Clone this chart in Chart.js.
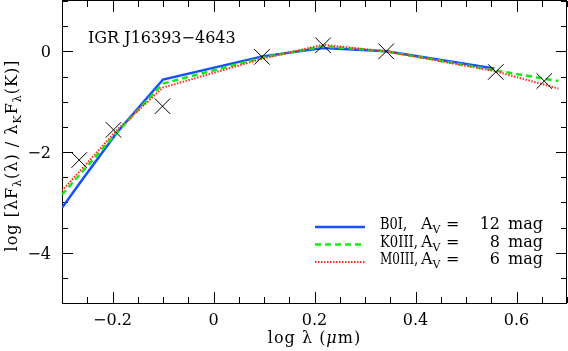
<!DOCTYPE html>
<html><head><meta charset="utf-8">
<script src="https://cdn.jsdelivr.net/npm/chart.js@4"></script>
<style>html,body{margin:0;padding:0;background:#fff}canvas{display:block}</style>
</head><body>
<canvas id="c" width="568" height="351"></canvas>
<script>
// ---- data ----
const modelX = [-0.30, -0.26, -0.19, -0.10, 0.097, 0.217, 0.342, 0.556, 0.683];
const b0iY   = [-3.11, -2.55, -1.60, -0.56, -0.10, 0.065, 0.00, -0.34, null];
const k0iiiY = [-2.85, null,  -1.60, -0.64, -0.125, 0.10, 0.00, -0.376, -0.59];
const m0iiiY = [-2.77, null,  -1.55, -0.72, -0.145, 0.13, 0.00, -0.39, -0.74];
const obsX = [-0.266, -0.198, -0.101, 0.096, 0.217, 0.342, 0.559, 0.655];
const obsY = [-2.16, -1.56, -1.09, -0.11, 0.12, 0.00, -0.41, -0.59];
const xTickValues = [-0.2, 0, 0.2, 0.4, 0.6];
const yTickValues = [-4, -2, 0];
const seriesNames = ['B0I,', 'K0III,', 'M0III,'];
const seriesAv = ['12', '8', '6'];
const plotTitle = 'IGR J16393\u22124643';

const FONT = '"DejaVu Serif"';
const BLUE = 'rgb(20,80,255)', GREEN = 'rgb(20,235,20)', RED = 'rgb(255,45,25)';

function pts(xs, ys) {
  const out = [];
  xs.forEach((x, i) => { if (ys[i] !== null && ys[i] !== undefined) out.push({x: x, y: ys[i]}); });
  return out;
}
function fmt(v) { return v === 0 ? '0' : String(v).replace('-', '\u2212'); }

function setF(ctx, s) { ctx.font = (s.it ? 'italic ' : '') + (s.sub ? '11px ' : '16px ') + FONT; }
function drawRich(ctx, segs, x, y) {
  let cx = x;
  segs.forEach(s => {
    setF(ctx, s);
    ctx.fillText(s.t, cx, y + (s.sub ? 4 : 0));
    cx += ctx.measureText(s.t).width;
  });
  return cx - x;
}
function richWidth(ctx, segs) {
  let w = 0;
  segs.forEach(s => { setF(ctx, s); w += ctx.measureText(s.t).width; });
  return w;
}

const decor = {
  id: 'decor',
  beforeDatasetsDraw(chart) {
    const ctx = chart.ctx, a = chart.chartArea;
    const xs = chart.scales.x, ys = chart.scales.y;
    ctx.save();
    ctx.strokeStyle = '#000';
    ctx.lineWidth = 1;
    ctx.beginPath();
    for (let i = 0; i <= 20; i++) {
      const v = -0.3 + i * 0.05;
      const major = Math.abs(Math.round(v / 0.2) * 0.2 - v) < 1e-6;
      const len = major ? 11 : 6;
      const px = Math.round(xs.getPixelForValue(v)) + 0.5;
      ctx.moveTo(px, a.bottom); ctx.lineTo(px, a.bottom - len);
      ctx.moveTo(px, a.top); ctx.lineTo(px, a.top + len);
    }
    for (let i = 0; i <= 12; i++) {
      const v = -5 + i * 0.5;
      const major = Math.abs(Math.round(v / 2) * 2 - v) < 1e-6;
      const len = major ? 11 : 6;
      const py = Math.round(ys.getPixelForValue(v)) + 0.5;
      ctx.moveTo(a.left, py); ctx.lineTo(a.left + len, py);
      ctx.moveTo(a.right, py); ctx.lineTo(a.right - len, py);
    }
    ctx.stroke();
    ctx.strokeRect(Math.round(a.left) + 0.5, Math.round(a.top) - 0.5,
                   Math.round(a.right - a.left) - 1, Math.round(a.bottom - a.top) + 1);
    ctx.restore();
  },
  afterDraw(chart) {
    const ctx = chart.ctx, a = chart.chartArea;
    const xs = chart.scales.x, ys = chart.scales.y;
    ctx.save();
    ctx.fillStyle = '#000';
    ctx.textBaseline = 'alphabetic';
    // tick labels (positions from the chart's scales)
    ctx.font = '16px ' + FONT;
    ctx.textAlign = 'center';
    xs.ticks.forEach(t => ctx.fillText(fmt(t.value), xs.getPixelForValue(t.value), a.bottom + 22));
    ctx.textAlign = 'right';
    ys.ticks.forEach(t => ctx.fillText(fmt(t.value), a.left - 11, ys.getPixelForValue(t.value) + 6));
    ctx.textAlign = 'left';
    // plot label
    ctx.fillText(plotTitle, 88, 43);
    // x title
    ctx.letterSpacing = '1px';
    const xt = [{t: 'log \u03bb ('}, {t: '\u03bc', it: true}, {t: 'm)'}];
    const xw = richWidth(ctx, xt);
    drawRich(ctx, xt, (a.left + a.right) / 2 - xw / 2, 343);
    // y title
    const yt = [{t: 'log [\u03bbF'}, {t: '\u03bb', sub: true}, {t: '(\u03bb) / \u03bb'}, {t: 'K', sub: true},
                {t: 'F'}, {t: '\u03bb', sub: true}, {t: '(K)]'}];
    const yw = richWidth(ctx, yt);
    ctx.save();
    ctx.translate(17, 155.5);
    ctx.rotate(-Math.PI / 2);
    drawRich(ctx, yt, -yw / 2, 0);
    ctx.restore();
    ctx.letterSpacing = '0px';
    // legend
    const ds = chart.data.datasets;
    const rowsY = [229, 246.5, 264];
    const nameW = [27, 38, 38];
    for (let i = 0; i < 3; i++) {
      const d = ds[i];
      const ly = rowsY[i] - 2;
      ctx.save();
      ctx.strokeStyle = d.borderColor;
      ctx.lineWidth = d.borderWidth;
      ctx.setLineDash(d.borderDash || []);
      ctx.beginPath();
      ctx.moveTo(315, ly); ctx.lineTo(365, ly);
      ctx.stroke();
      ctx.restore();
      ctx.font = '16px ' + FONT;
      ctx.textAlign = 'left';
      ctx.fillText(seriesNames[i], 380, rowsY[i], nameW[i]);
      drawRich(ctx, [{t: 'A'}, {t: 'V', sub: true}], 421, rowsY[i]);
      ctx.font = '16px ' + FONT;
      ctx.fillText('=', 446, rowsY[i]);
      ctx.textAlign = 'right';
      ctx.fillText(seriesAv[i], 500, rowsY[i]);
      ctx.textAlign = 'left';
      ctx.fillText('mag', 508, rowsY[i]);
    }
    ctx.restore();
  }
};

new Chart(document.getElementById('c'), {
  type: 'scatter',
  data: {
    datasets: [
      {label: 'B0I', data: pts(modelX, b0iY), showLine: true, borderColor: BLUE, backgroundColor: BLUE,
       borderWidth: 2.5, pointRadius: 0, order: 3, spanGaps: true},
      {label: 'K0III', data: pts(modelX, k0iiiY), showLine: true, borderColor: GREEN, backgroundColor: GREEN,
       borderWidth: 2.5, borderDash: [6, 4], pointRadius: 0, order: 2, spanGaps: true},
      {label: 'M0III', data: pts(modelX, m0iiiY), showLine: true, borderColor: RED, backgroundColor: RED,
       borderWidth: 2, borderDash: [1.5, 1.5], pointRadius: 0, order: 1, spanGaps: true},
      {label: 'obs', data: pts(obsX, obsY), showLine: false, pointStyle: 'crossRot', pointRadius: 11,
       borderColor: '#000', backgroundColor: '#000', pointBorderWidth: 1, borderWidth: 1, order: 0}
    ]
  },
  options: {
    responsive: false,
    animation: false,
    devicePixelRatio: 1,
    layout: {autoPadding: false, padding: {left: 0, right: 1, top: 1, bottom: 0}},
    plugins: {legend: {display: false}, tooltip: {enabled: false}},
    scales: {
      x: {
        type: 'linear', min: -0.3, max: 0.7,
        grid: {display: false, drawTicks: false},
        border: {display: false},
        afterBuildTicks: s => { s.ticks = xTickValues.map(v => ({value: v})); },
        afterFit: s => { s.height = 48; },
        ticks: {display: false}
      },
      y: {
        type: 'linear', min: -5, max: 1,
        grid: {display: false, drawTicks: false},
        border: {display: false},
        afterBuildTicks: s => { s.ticks = yTickValues.map(v => ({value: v})); },
        afterFit: s => { s.width = 62; },
        ticks: {display: false}
      }
    }
  },
  plugins: [decor]
});
</script>
</body></html>
